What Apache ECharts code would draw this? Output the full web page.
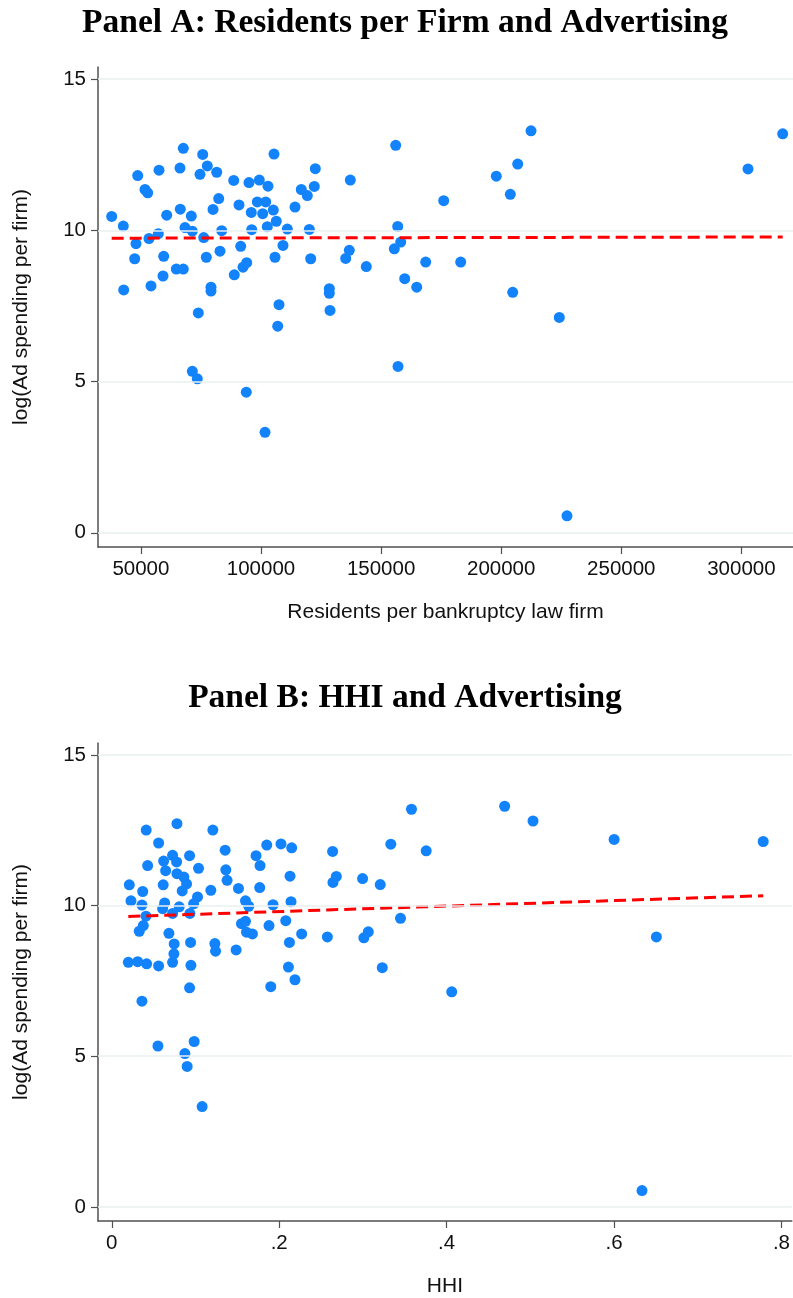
<!DOCTYPE html>
<html>
<head>
<meta charset="utf-8">
<script src="https://cdn.jsdelivr.net/npm/echarts@6/dist/echarts.min.js"></script>
<style>
  html, body { margin: 0; padding: 0; background: #fff; }
  #chart { width: 793px; height: 1298px; }
</style>
</head>
<body>
<div id="chart"></div>
<script>
// Panel A: residents per bankruptcy law firm vs. log ad spending per firm
const residentsPerFirm = [
  67650, 75730, 105410, 77640, 66280, 57540, 48670, 74600, 81560, 88640,
  95000, 99290, 102910, 51710, 52830, 82390, 98460, 101960, 66400, 80020,
  90840, 95960, 100710, 105120, 114160, 37840, 60740, 70980, 42670, 68360,
  71400, 83640, 96130, 102620, 106370, 110950, 57240, 53370, 76150, 47960,
  91550, 109160, 59490, 47420, 77230, 82930, 105830, 64740, 67650, 94050,
  92510, 59200, 88880, 42840, 54210, 79180, 79180, 107490, 106950, 73900,
  71400, 73480, 93880, 101670, 156080, 122610, 137180, 116780, 119280, 122190,
  176060, 120110, 156910, 120690, 136760, 135260, 143840, 155500, 158160, 168570,
  183140, 159830, 164820, 128440, 128440, 128730, 212410, 206870, 197960, 203790,
  302750, 317190, 204790, 224190, 157040, 227390
];
const adSpendA = [
  12.71, 12.51, 12.52, 12.13, 12.06, 11.99, 11.81, 11.85, 11.92, 11.65,
  11.58, 11.66, 11.46, 11.35, 11.24, 11.05, 10.94, 10.94, 10.70, 10.69,
  10.84, 10.59, 10.55, 10.67, 10.77, 10.46, 10.50, 10.47, 10.14, 10.09,
  9.97, 9.99, 10.02, 10.12, 10.30, 10.04, 9.89, 9.73, 9.76, 9.56,
  9.47, 9.50, 9.14, 9.06, 9.11, 9.31, 9.11, 8.72, 8.72, 8.93,
  8.78, 8.49, 8.53, 8.03, 8.16, 8.12, 7.99, 7.54, 6.83, 7.27,
  5.34, 5.09, 4.65, 3.32, 12.81, 12.04, 11.66, 11.35, 11.15, 11.45,
  10.98, 10.03, 10.13, 9.06, 9.34, 9.07, 8.80, 9.39, 9.61, 8.95,
  8.95, 8.40, 8.12, 8.07, 7.92, 7.35, 13.29, 12.19, 11.79, 11.19,
  12.03, 13.19, 7.95, 7.12, 5.50, 0.56
];
// Linear fit, endpoints at the smallest and largest x
const fitA = [[37840, 9.74], [317190, 9.78]];

// Panel B: HHI vs. log ad spending per firm
const hhi = [
  0.0778, 0.0411, 0.1207, 0.0559, 0.1851, 0.2021, 0.2149, 0.1354, 0.1723, 0.1771,
  0.0929, 0.0726, 0.0619, 0.0774, 0.0428, 0.1036, 0.1362, 0.0643, 0.0778, 0.0861,
  0.0893, 0.2129, 0.1377, 0.0209, 0.0614, 0.0841, 0.1183, 0.1513, 0.1767, 0.0369,
  0.0229, 0.0360, 0.1024, 0.0977, 0.0631, 0.0607, 0.0805, 0.0933, 0.0726, 0.1597,
  0.1636, 0.1926, 0.2141, 0.0408, 0.0376, 0.0328, 0.0682, 0.1549, 0.1597, 0.1609,
  0.1680, 0.1878, 0.2078, 0.2268, 0.0745, 0.0941, 0.1231, 0.1239, 0.1485, 0.2122,
  0.0742, 0.0197, 0.0309, 0.0416, 0.0559, 0.0726, 0.0945, 0.2110, 0.2188, 0.0929,
  0.1899, 0.0360, 0.0551, 0.0984, 0.0873, 0.0900, 0.1079, 0.3580, 0.3333, 0.3756,
  0.2638, 0.2682, 0.2642, 0.2996, 0.3207, 0.3449, 0.2575, 0.3064, 0.3011, 0.3231,
  0.4061, 0.4693, 0.5032, 0.6001, 0.7782, 0.6506, 0.6334
];
const adSpendB = [
  12.72, 12.51, 12.51, 12.08, 12.01, 12.05, 11.92, 11.84, 11.66, 11.33,
  11.66, 11.67, 11.48, 11.45, 11.33, 11.24, 11.19, 11.16, 11.06, 10.95,
  10.72, 10.98, 10.84, 10.69, 10.69, 10.49, 10.51, 10.57, 10.60, 10.47,
  10.16, 10.02, 10.29, 10.06, 10.09, 9.90, 9.96, 9.74, 9.74, 10.16,
  9.98, 10.03, 10.13, 9.65, 9.34, 9.15, 9.08, 9.40, 9.48, 9.12,
  9.06, 9.34, 9.50, 9.06, 8.73, 8.78, 8.74, 8.49, 8.53, 8.78,
  8.40, 8.12, 8.14, 8.07, 8.00, 8.12, 8.02, 7.96, 7.54, 7.27,
  7.31, 6.83, 5.34, 5.49, 5.09, 4.66, 3.33, 13.20, 12.04, 11.82,
  11.80, 10.97, 10.77, 10.90, 10.70, 9.58, 8.96, 9.13, 8.93, 7.94,
  7.14, 13.30, 12.81, 12.20, 12.13, 8.96, 0.54
];
const fitB = [[0.0197, 9.64], [0.7782, 10.33]];

// Tick values and labels
const yTicks = [0, 5, 10, 15];
const xTicksA = [50000, 100000, 150000, 200000, 250000, 300000];
const xTicksB = [0, 0.2, 0.4, 0.6, 0.8];
const xTickLabelsB = ['0', '.2', '.4', '.6', '.8'];

const SANS = '"Liberation Sans", Arial, Helvetica, sans-serif';
const SERIF = '"Liberation Serif", "DejaVu Serif", serif';
const AXIS_COLOR = '#505050';
const TEXT_COLOR = '#111111';
const MARKER_COLOR = '#1283fb';
const LABEL_SIZE = 20.5;
const AXIS_TITLE_SIZE = 21;

const zip = (xs, ys) => xs.map((x, i) => [x, ys[i]]);

function xAxisFor(gridIndex, min, max, ticks, name, formatter) {
  return {
    gridIndex, type: 'value', min, max,
    name, nameLocation: 'middle', nameGap: 55,
    nameTextStyle: { fontFamily: SANS, fontSize: AXIS_TITLE_SIZE, color: TEXT_COLOR },
    axisLine: { show: true, onZero: false, lineStyle: { color: AXIS_COLOR, width: 1.5 } },
    axisTick: { show: true, customValues: ticks, length: 7, lineStyle: { color: AXIS_COLOR, width: 1.2 } },
    axisLabel: { customValues: ticks, margin: 12, fontFamily: SANS, fontSize: LABEL_SIZE, color: TEXT_COLOR, formatter },
    splitLine: { show: false }
  };
}

function yAxisFor(gridIndex) {
  return {
    gridIndex, type: 'value', min: -0.47, max: 15.4,
    name: 'log(Ad spending per firm)', nameLocation: 'middle', nameGap: 66, nameRotate: 90,
    nameTextStyle: { fontFamily: SANS, fontSize: AXIS_TITLE_SIZE, color: TEXT_COLOR },
    axisLine: { show: true, onZero: false, lineStyle: { color: AXIS_COLOR, width: 1.5 } },
    axisTick: { show: true, customValues: yTicks, length: 7, lineStyle: { color: AXIS_COLOR, width: 1.2 } },
    axisLabel: { customValues: yTicks, margin: 12, fontFamily: SANS, fontSize: LABEL_SIZE, color: TEXT_COLOR },
    splitLine: { show: false }
  };
}

function gridLines(axisIndex) {
  return {
    type: 'line', xAxisIndex: axisIndex, yAxisIndex: axisIndex, data: [], z: 1, silent: true,
    markLine: {
      silent: true, symbol: 'none', animation: false,
      label: { show: false },
      lineStyle: { color: '#e8eff1', width: 1.5, type: 'solid' },
      data: yTicks.map(v => ({ yAxis: v }))
    }
  };
}

function scatter(axisIndex, points) {
  return {
    type: 'scatter', xAxisIndex: axisIndex, yAxisIndex: axisIndex, z: 3,
    data: points, symbol: 'circle', symbolSize: 11,
    itemStyle: { color: MARKER_COLOR, opacity: 1 }
  };
}

function fitLine(axisIndex, points) {
  return {
    type: 'line', xAxisIndex: axisIndex, yAxisIndex: axisIndex, z: 4,
    data: points, showSymbol: false, symbol: 'none',
    lineStyle: { color: '#ff0000', width: 3, type: [12, 6] }
  };
}

const titleStyle = { fontFamily: SERIF, fontWeight: 'bold', fontSize: 33.5, lineHeight: 40, color: '#000' };

const chart = echarts.init(document.getElementById('chart'), null, { renderer: 'canvas' });
chart.setOption({
  animation: false,
  backgroundColor: '#ffffff',
  title: [
    { text: 'Panel A: Residents per Firm and Advertising', left: 405, top: 3, textAlign: 'center', padding: 0, textStyle: titleStyle },
    { text: 'Panel B: HHI and Advertising', left: 405, top: 678, textAlign: 'center', padding: 0, textStyle: titleStyle }
  ],
  grid: [
    { left: 98, top: 67, width: 695, height: 480, containLabel: false },
    { left: 98, top: 743, width: 695, height: 479, containLabel: false }
  ],
  xAxis: [
    xAxisFor(0, 32140, 321480, xTicksA, 'Residents per bankruptcy law firm', v => String(v)),
    xAxisFor(1, -0.0165, 0.8124, xTicksB, 'HHI', v => {
      const i = xTicksB.findIndex(t => Math.abs(t - v) < 1e-9);
      return i >= 0 ? xTickLabelsB[i] : '';
    })
  ],
  yAxis: [yAxisFor(0), yAxisFor(1)],
  series: [
    gridLines(0),
    gridLines(1),
    scatter(0, zip(residentsPerFirm, adSpendA)),
    scatter(1, zip(hhi, adSpendB)),
    fitLine(0, fitA),
    fitLine(1, fitB)
  ]
});
</script>
</body>
</html>
